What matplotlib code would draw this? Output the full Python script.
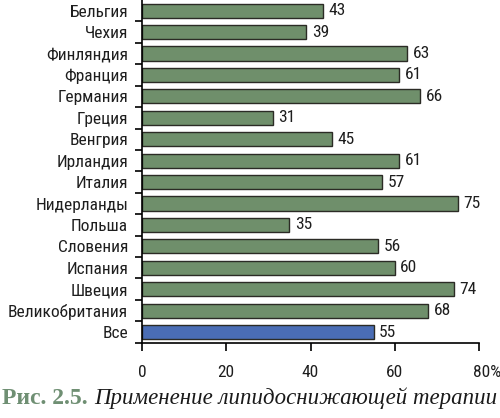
import matplotlib
matplotlib.use("Agg")
import matplotlib.pyplot as plt
import matplotlib.transforms as mtransforms
from matplotlib import font_manager

# lipid-lowering therapy by country, %
countries = ['Бельгия', 'Чехия', 'Финляндия', 'Франция', 'Германия', 'Греция',
             'Венгрия', 'Ирландия', 'Италия', 'Нидерланды', 'Польша', 'Словения',
             'Испания', 'Швеция', 'Великобритания', 'Все']
values = [43, 39, 63, 61, 66, 31, 45, 61, 57, 75, 35, 56, 60, 74, 68, 55]
xticks = [0, 20, 40, 60, 80]
xtick_labels = ['0', '20', '40', '60', '80%']

# condensed sans if there is one
names = set(f.name for f in font_manager.fontManager.ttflist)
wanted = ['Liberation Sans Narrow', 'DejaVu Sans Condensed', 'Roboto Condensed',
          'Archivo Narrow', 'Roboto', 'Liberation Sans']
family = [n for n in wanted if n in names][:1] + ['DejaVu Sans']
plt.rcParams['font.family'] = family

green = '#6f8f6b'
blue = '#4a6db5'
colors = [green] * (len(countries) - 1) + [blue]

fig = plt.figure(figsize=(5, 4.18), dpi=100)
ax = fig.add_axes([0.284, 0.18, 0.674, 0.82])

pos = list(range(len(countries)))
ax.barh(pos, values, height=0.66, color=colors, edgecolor='#2b2b25', linewidth=1.0)
for p, v in zip(pos, values):
    ax.text(v + 1.3, p, str(v), va='center', ha='left', fontsize=12.5, color='#1e1e1e')

ax.set_ylim(len(countries) - 0.5, -0.5)
ax.set_xlim(0, 80)
ax.set_yticks([p + 0.5 for p in pos])
ax.set_yticklabels([])
ax.set_yticks(pos, minor=True)
ax.set_yticklabels(countries, minor=True, fontsize=12.5, color='#1e1e1e')
ax.tick_params(axis='y', which='minor', length=0, pad=10)
ax.tick_params(axis='y', which='major', length=5, width=1.2, direction='out')
ax.set_xticks(xticks)
ax.set_xticklabels(xtick_labels, fontsize=12.5, color='#1e1e1e')
ax.tick_params(axis='x', length=6, width=1.2, pad=10)
# "80%" sits a little right of its tick
last = ax.get_xticklabels()[-1]
last.set_transform(last.get_transform() + mtransforms.ScaledTranslation(6 / 72, 0, fig.dpi_scale_trans))
ax.spines['top'].set_visible(False)
ax.spines['right'].set_visible(False)
ax.spines['left'].set_linewidth(1.2)
ax.spines['bottom'].set_linewidth(1.2)

fig.text(0.005, 0.047, 'Рис. 2.5.', fontsize=17, fontweight='bold', color='#6f8f73',
         family='Liberation Serif', va='center', ha='left')
fig.text(0.188, 0.047, 'Применение липидоснижающей терапии', fontsize=16.5, style='italic',
         color='#1a1a1a', family='Liberation Serif', va='center', ha='left')

fig.savefig('out.png', dpi=100)
